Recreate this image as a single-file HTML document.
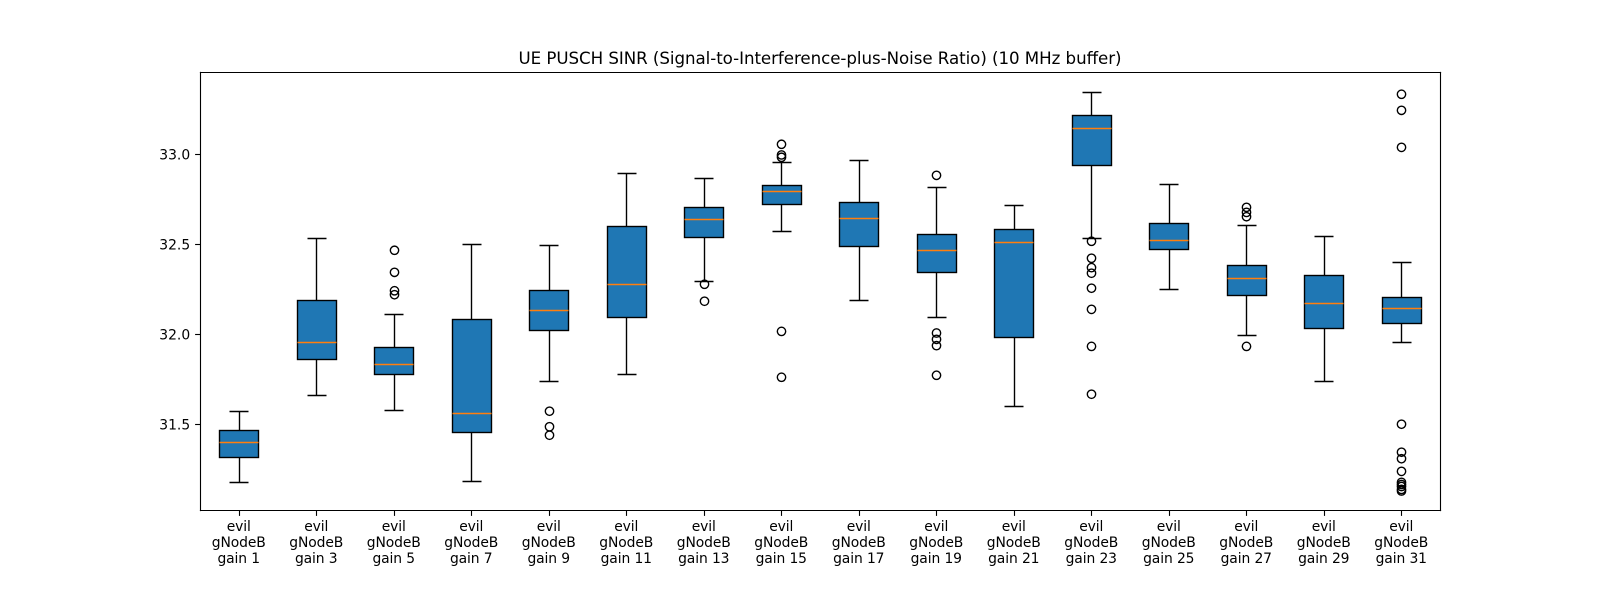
<!DOCTYPE html>
<html lang="en">
<head>
<meta charset="utf-8">
<title>UE PUSCH SINR</title>
<style>
html,body{margin:0;padding:0;background:#fff;}
svg{display:block;}
text{font-family:"DejaVu Sans","Liberation Sans",sans-serif;fill:#000;}
</style>
</head>
<body>
<svg id="chart" width="1600" height="600" viewBox="0 0 1600 600" xmlns="http://www.w3.org/2000/svg">
  <rect x="0" y="0" width="1600" height="600" fill="#fff"></rect>
  <rect x="200" y="72" width="1240" height="439" fill="#fff"></rect>
  <g id="boxes"></g>
  <g id="whiskers"></g>
  <g id="medians"></g>
  <g id="fliers"></g>
  <g id="x-axis"></g>
  <g id="y-axis"></g>
  <g id="spines" fill="none" stroke="#000" stroke-width="1.11">
    <line x1="200.5" y1="71.9" x2="200.5" y2="511.1"></line>
    <line x1="1440.5" y1="71.9" x2="1440.5" y2="511.1"></line>
    <line x1="199.9" y1="72.5" x2="1441.1" y2="72.5"></line>
    <line x1="199.9" y1="510.5" x2="1441.1" y2="510.5"></line>
  </g>
  <text x="820" y="64" text-anchor="middle" font-size="16.67" textLength="603" lengthAdjust="spacing">UE PUSCH SINR (Signal-to-Interference-plus-Noise Ratio) (10 MHz buffer)</text>
</svg>
<script>
var gains = [1, 3, 5, 7, 9, 11, 13, 15, 17, 19, 21, 23, 25, 27, 29, 31];
var whiskerLow = [31.179, 31.661, 31.578, 31.185, 31.739, 31.777, 32.292, 32.569, 32.187, 32.093, 31.600, 32.530, 32.248, 31.993, 31.739, 31.955];
var quartile1 = [31.318, 31.860, 31.777, 31.456, 32.021, 32.093, 32.536, 32.719, 32.486, 32.342, 31.982, 32.935, 32.470, 32.215, 32.032, 32.060];
var medians = [31.401, 31.955, 31.833, 31.561, 32.132, 32.276, 32.636, 32.791, 32.641, 32.464, 32.508, 33.140, 32.519, 32.309, 32.171, 32.143];
var quartile3 = [31.467, 32.189, 31.927, 32.084, 32.243, 32.597, 32.702, 32.824, 32.730, 32.553, 32.580, 33.212, 32.614, 32.381, 32.326, 32.204];
var whiskerHigh = [31.574, 32.530, 32.110, 32.499, 32.493, 32.892, 32.863, 32.951, 32.962, 32.813, 32.715, 33.339, 32.829, 32.602, 32.542, 32.398];
var outliers = [
  [],
  [],
  [32.464, 32.342, 32.240, 32.218],
  [],
  [31.573, 31.487, 31.440],
  [],
  [32.276, 32.182],
  [33.051, 32.992, 32.979, 32.015, 31.761],
  [],
  [32.879, 32.006, 31.971, 31.936, 31.772],
  [],
  [32.514, 32.420, 32.368, 32.337, 32.254, 32.137, 31.932, 31.667],
  [],
  [32.702, 32.674, 32.650, 31.932],
  [],
  [33.328, 33.239, 33.034, 31.501, 31.346, 31.310, 31.240, 31.179, 31.167, 31.156, 31.140, 31.131]
];
var yTickValues = [31.5, 32.0, 32.5, 33.0];
var yTickLabels = ["31.5", "32.0", "32.5", "33.0"];

var NS = "http://www.w3.org/2000/svg";
var LEFT = 200, RIGHT = 1440;
var BOX_FRAC = 0.5, CAP_FRAC = 0.25;
var step = (RIGHT - LEFT) / gains.length;

function xScale(i) { return LEFT + (i + 0.5) * step; }
function yScale(v) { return 153.5 + (33 - v) * 180.6; }
function snap(p) { return Math.floor(p + 0.5) + 0.5; }

function mk(parent, tag, attrs) {
  var el = document.createElementNS(NS, tag);
  for (var k in attrs) { el.setAttribute(k, attrs[k]); }
  parent.appendChild(el);
  return el;
}

var gBoxes = document.getElementById("boxes");
var gWhiskers = document.getElementById("whiskers");
var gMedians = document.getElementById("medians");
var gFliers = document.getElementById("fliers");
var gX = document.getElementById("x-axis");
var gY = document.getElementById("y-axis");

gains.forEach(function (gain, i) {
  var cx = xScale(i);
  var sx = snap(cx);
  var bw = step * BOX_FRAC;
  var cw = step * CAP_FRAC;
  var bl = snap(cx - bw / 2), br = snap(cx + bw / 2);
  var cl = snap(cx - cw / 2), cr = snap(cx + cw / 2);
  var yQ1 = snap(yScale(quartile1[i])), yQ3 = snap(yScale(quartile3[i]));
  var yMed = snap(yScale(medians[i]));
  var yLow = snap(yScale(whiskerLow[i])), yHigh = snap(yScale(whiskerHigh[i]));
  var base = { stroke: "#000", "stroke-width": 1.39, fill: "none" };

  var box = mk(gBoxes, "rect", { x: bl, y: yQ3, width: br - bl, height: yQ1 - yQ3, fill: "#1f77b4", stroke: "#000", "stroke-width": 1.39 });
  
  

  var wl = mk(gWhiskers, "line", Object.assign({ x1: sx, x2: sx, y1: yQ1, y2: yLow }, base));
  
  

  var wh = mk(gWhiskers, "line", Object.assign({ x1: sx, x2: sx, y1: yQ3, y2: yHigh }, base));
  
  

  var cl1 = mk(gWhiskers, "line", Object.assign({ x1: cl, x2: cr, y1: yLow, y2: yLow }, base));
  
  

  var ch1 = mk(gWhiskers, "line", Object.assign({ x1: cl, x2: cr, y1: yHigh, y2: yHigh }, base));
  
  

  var med = mk(gMedians, "line", { x1: bl, x2: br, y1: yMed, y2: yMed, stroke: "#ff7f0e", "stroke-width": 1.39 });
  
  

  outliers[i].forEach(function (v) {
    var c = mk(gFliers, "circle", { cx: sx, cy: yScale(v), r: 4.17, fill: "none", stroke: "#000", "stroke-width": 1.39 });
    
    
  });

  var tick = mk(gX, "line", { x1: sx, x2: sx, y1: 511, y2: 515.9, stroke: "#000", "stroke-width": 1.11 });
  
  

  var label = mk(gX, "text", { "text-anchor": "middle", "font-size": 13.89, "letter-spacing": "-0.1" });
  
  
  ["evil", "gNodeB", "gain " + gain].forEach(function (line, j) {
    var t = mk(label, "tspan", { x: cx, y: 531 + j * 16 });
    t.textContent = line;
  });
});

yTickValues.forEach(function (v, i) {
  var y = snap(yScale(v));
  var tick = mk(gY, "line", { x1: 195.1, x2: 200, y1: y, y2: y, stroke: "#000", "stroke-width": 1.11 });
  
  

  var label = mk(gY, "text", { x: 190.2, y: y + 4.8, "text-anchor": "end", "font-size": 13.89 });
  
  
  label.textContent = yTickLabels[i];
});
</script>
</body>
</html>
